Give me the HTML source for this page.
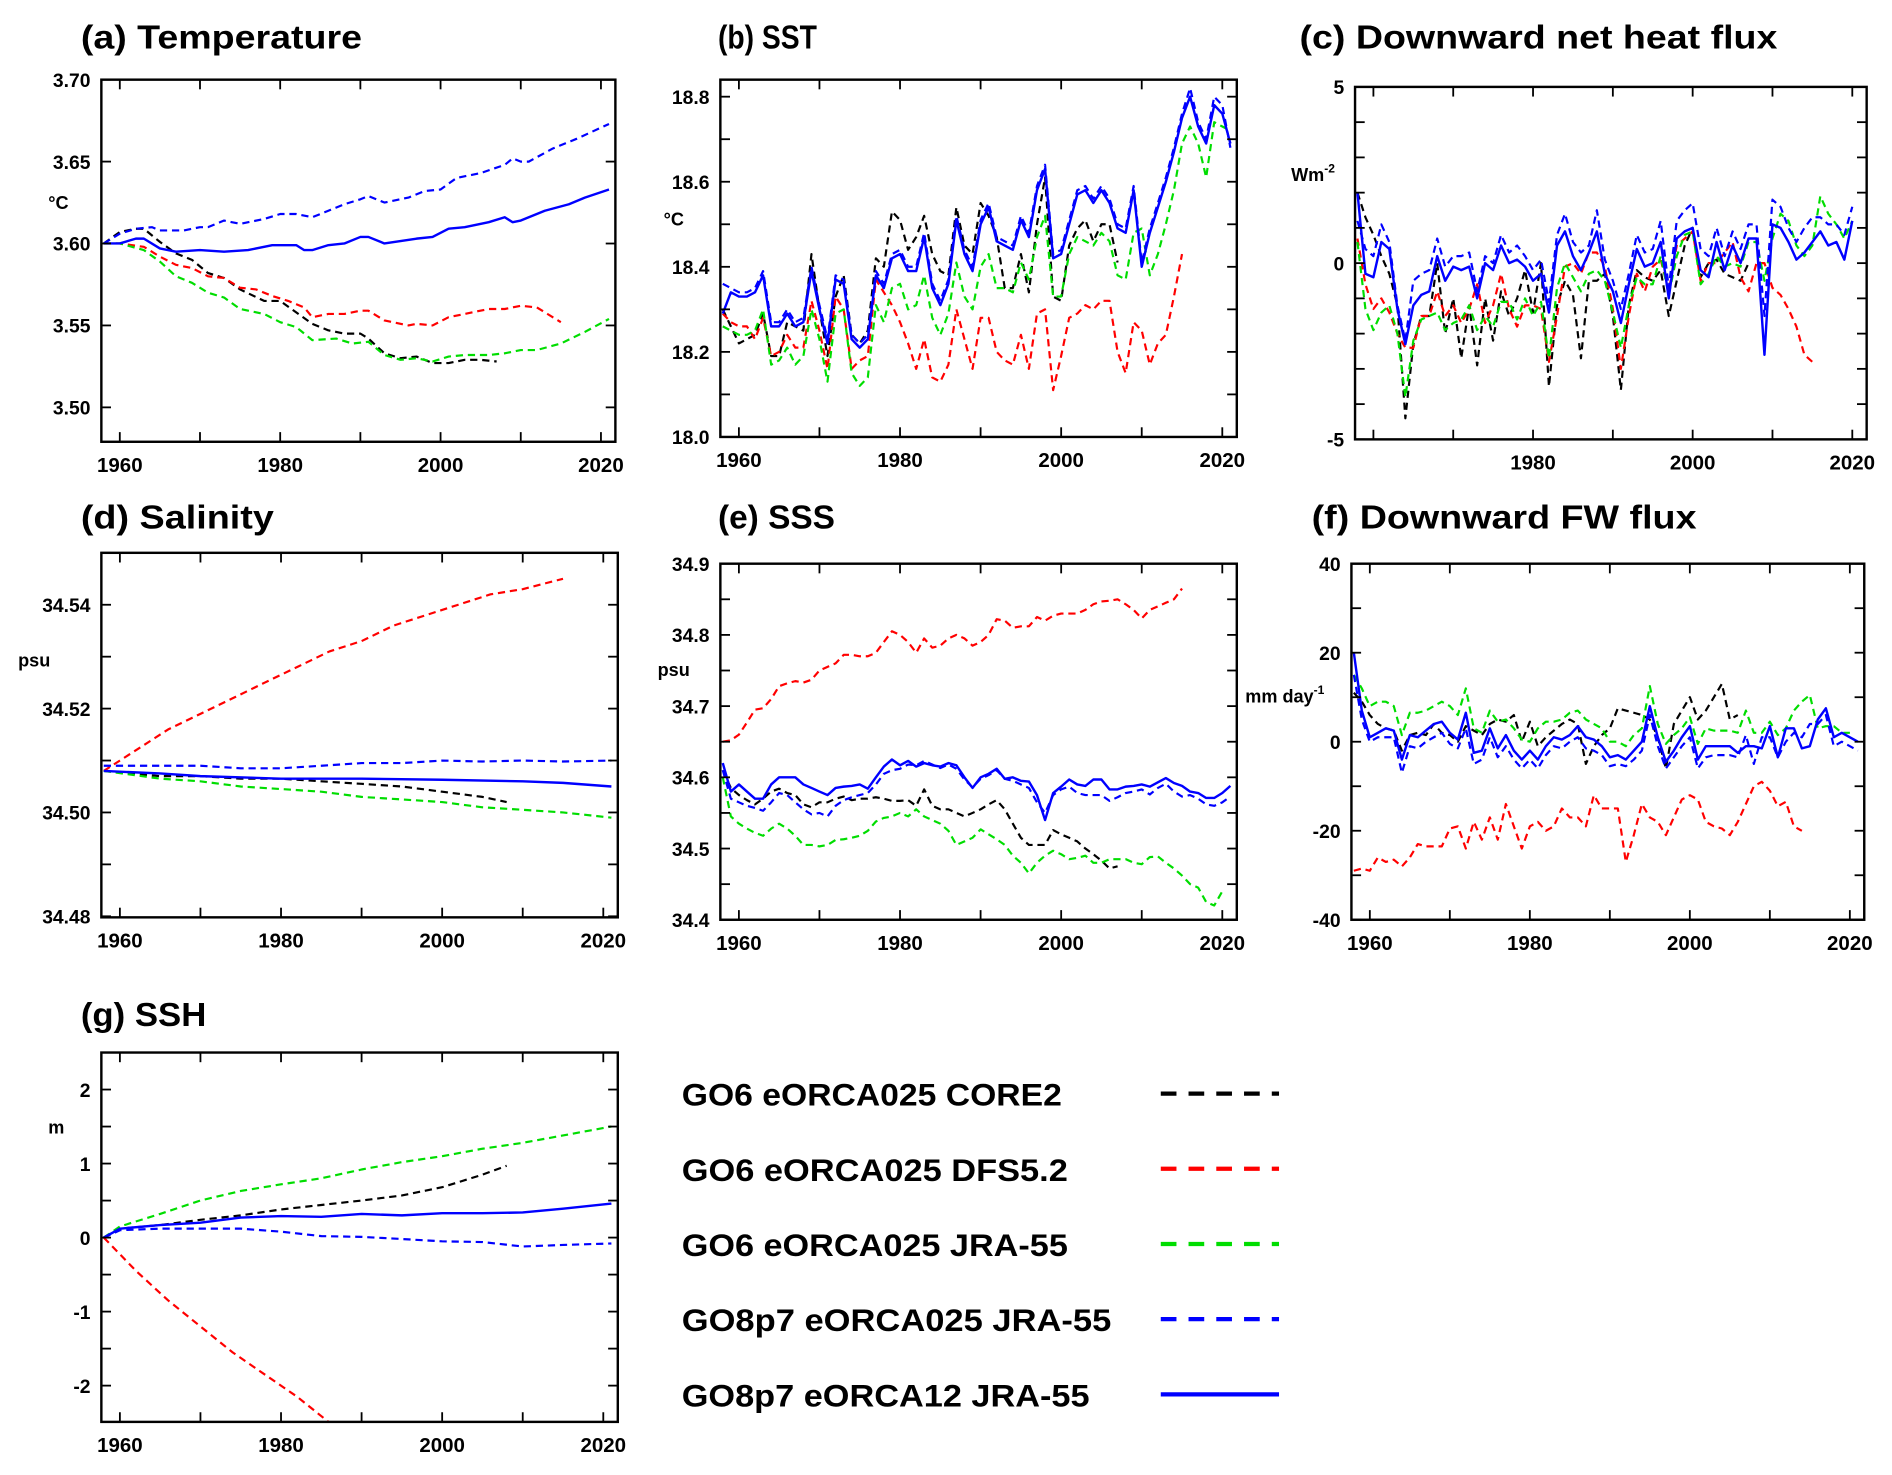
<!DOCTYPE html>
<html><head><meta charset="utf-8"><style>
html,body{margin:0;padding:0;background:#fff}
svg{display:block}
text{font-family:"Liberation Sans",sans-serif;font-weight:bold;fill:#000}
</style></head><body>
<svg id="fig" xmlns="http://www.w3.org/2000/svg" width="1892" height="1475" viewBox="0 0 1568 1222" preserveAspectRatio="none"></svg>
<script>
// ---------- data ----------
const yearsAnnual = []; for (let y = 1958; y <= 2021; y++) yearsAnnual.push(y);

// (a) Temperature
const aBlueDashYears=[1958,1960,1962,1964,1965,1968,1970,1971,1973,1975,1978,1980,1982,1984,1986,1988,1990,1991,1993,1996,1998,2000,2002,2005,2008,2009,2010,2011,2014,2017,2021];
const aBlueDash=[3.600,3.606,3.609,3.610,3.608,3.608,3.610,3.610,3.614,3.612,3.615,3.618,3.618,3.616,3.620,3.624,3.627,3.629,3.625,3.628,3.632,3.633,3.640,3.643,3.648,3.652,3.650,3.650,3.658,3.664,3.673];
const aBlueYears=[1958,1960,1962,1963,1965,1967,1970,1973,1976,1979,1982,1983,1984,1986,1988,1990,1991,1993,1997,1999,2001,2003,2006,2008,2009,2010,2013,2016,2018,2021];
const aBlue=[3.600,3.600,3.603,3.603,3.597,3.595,3.596,3.595,3.596,3.599,3.599,3.596,3.596,3.599,3.600,3.604,3.604,3.600,3.603,3.604,3.609,3.610,3.613,3.616,3.613,3.614,3.620,3.624,3.628,3.633];
const aBlackYears=[1958,1960,1962,1963,1965,1967,1969,1971,1973,1975,1978,1980,1982,1984,1986,1988,1990,1991,1993,1995,1997,1999,2001,2003,2005,2007];
const aBlack=[3.600,3.607,3.609,3.609,3.601,3.594,3.590,3.582,3.579,3.572,3.565,3.565,3.558,3.551,3.547,3.545,3.545,3.542,3.533,3.530,3.531,3.527,3.527,3.529,3.529,3.528];
const aRedYears=[1958,1960,1963,1965,1967,1969,1971,1973,1975,1977,1979,1981,1983,1984,1986,1988,1990,1991,1993,1996,1997,1999,2001,2003,2006,2008,2010,2012,2015];
const aRed=[3.600,3.600,3.598,3.592,3.587,3.585,3.580,3.579,3.573,3.572,3.568,3.565,3.561,3.555,3.557,3.557,3.559,3.559,3.553,3.550,3.551,3.550,3.555,3.557,3.560,3.560,3.562,3.561,3.552];
const aGreenYears=[1958,1960,1963,1965,1967,1969,1971,1973,1975,1978,1980,1982,1984,1987,1989,1991,1993,1995,1997,1999,2001,2003,2006,2008,2010,2012,2015,2018,2021];
const aGreen=[3.600,3.600,3.596,3.589,3.580,3.576,3.570,3.567,3.560,3.557,3.552,3.549,3.541,3.542,3.539,3.540,3.532,3.529,3.530,3.528,3.531,3.532,3.532,3.533,3.535,3.535,3.539,3.546,3.554];

// (b) SST (annual from 1958)
const bBlue=[18.29,18.34,18.33,18.33,18.34,18.38,18.26,18.26,18.29,18.26,18.27,18.39,18.30,18.22,18.37,18.36,18.23,18.21,18.23,18.38,18.35,18.42,18.43,18.39,18.39,18.47,18.35,18.31,18.36,18.51,18.43,18.39,18.50,18.54,18.46,18.45,18.44,18.51,18.47,18.58,18.63,18.42,18.43,18.50,18.57,18.58,18.55,18.58,18.55,18.49,18.48,18.58,18.40,18.48,18.54,18.60,18.67,18.75,18.80,18.73,18.69,18.78,18.76,18.69];
const bBlueDash=[18.36,18.35,18.34,18.34,18.35,18.39,18.27,18.27,18.30,18.27,18.28,18.40,18.31,18.23,18.38,18.37,18.24,18.22,18.24,18.39,18.36,18.43,18.44,18.40,18.40,18.48,18.36,18.32,18.37,18.52,18.44,18.40,18.51,18.55,18.47,18.46,18.45,18.52,18.48,18.59,18.64,18.43,18.44,18.51,18.58,18.59,18.56,18.59,18.56,18.50,18.49,18.59,18.41,18.49,18.55,18.61,18.68,18.76,18.82,18.74,18.70,18.80,18.78,18.68];
const bBlack=[18.30,18.26,18.22,18.23,18.24,18.29,18.19,18.19,18.27,18.26,18.25,18.43,18.30,18.19,18.33,18.38,18.24,18.22,18.25,18.42,18.40,18.53,18.51,18.44,18.47,18.52,18.43,18.39,18.38,18.54,18.45,18.43,18.55,18.52,18.47,18.35,18.35,18.43,18.34,18.50,18.61,18.33,18.32,18.45,18.49,18.51,18.46,18.50,18.50,18.41];
const bGreen=[18.26,18.25,18.24,18.24,18.25,18.30,18.17,18.18,18.21,18.17,18.19,18.30,18.23,18.13,18.29,18.30,18.15,18.12,18.14,18.31,18.27,18.35,18.36,18.30,18.31,18.38,18.28,18.24,18.29,18.41,18.33,18.30,18.40,18.43,18.35,18.35,18.34,18.41,18.37,18.47,18.52,18.33,18.33,18.43,18.47,18.46,18.45,18.48,18.46,18.38,18.37,18.48,18.49,18.38,18.43,18.50,18.58,18.69,18.73,18.69,18.61,18.74,18.73,18.72];
const bRed=[18.29,18.27,18.26,18.26,18.23,18.28,18.19,18.20,18.24,18.21,18.21,18.32,18.25,18.16,18.33,18.30,18.16,18.18,18.19,18.37,18.34,18.31,18.27,18.22,18.16,18.23,18.14,18.13,18.17,18.30,18.23,18.16,18.28,18.28,18.20,18.18,18.17,18.24,18.16,18.29,18.30,18.11,18.19,18.28,18.29,18.31,18.30,18.32,18.32,18.20,18.15,18.27,18.25,18.17,18.22,18.24,18.33,18.43];

// (c) Net heat flux (annual from 1958)
const cBlue=[2.0,-0.3,-0.4,0.6,0.4,-1.3,-2.3,-1.2,-0.9,-0.8,0.2,-0.5,-0.1,-0.2,-0.1,-1.0,0.0,-0.2,0.5,0.0,0.1,-0.1,-0.5,-0.3,-1.4,0.5,0.9,0.2,-0.2,0.3,0.9,-0.3,-0.8,-1.7,-0.6,0.4,-0.1,0.0,0.6,-1.0,0.7,0.9,1.0,-0.2,-0.4,0.6,-0.2,0.5,0.0,0.7,0.7,-2.6,1.1,1.0,0.6,0.1,0.3,0.6,0.9,0.5,0.6,0.1,1.2];
const cBlueDash=[1.2,0.4,0.2,1.1,0.6,-1.2,-2.2,-0.5,-0.3,-0.2,0.7,-0.1,0.2,0.2,0.3,-0.8,0.2,0.0,0.8,0.3,0.5,0.2,-0.2,0.1,-1.1,0.8,1.4,0.6,0.3,0.5,1.5,0.1,-0.5,-1.3,-0.3,0.8,0.3,0.4,1.2,-0.7,1.2,1.5,1.7,0.4,0.2,1.0,0.2,0.9,0.4,1.1,1.1,-1.5,1.8,1.6,1.0,0.6,1.0,1.3,1.3,1.1,1.1,0.8,1.6];
const cBlack=[2.0,1.3,0.8,0.2,-0.3,-1.2,-4.4,-2.3,-1.5,-1.5,0.0,-2.0,-1.0,-2.7,-1.2,-2.9,-1.0,-2.2,-0.8,-1.5,-1.0,-0.2,-1.4,0.0,-3.5,-1.2,-0.5,-0.9,-2.7,-0.5,-0.5,-0.3,-1.5,-3.6,-1.2,-0.2,-0.4,-0.5,-0.2,-1.5,-0.5,0.5,1.0,-0.4,0.0,0.1,-0.3,-0.4,-0.5,0.0];
const cRed=[0.7,-0.6,-1.3,-1.0,-1.4,-2.0,-2.4,-2.4,-1.5,-1.5,-0.8,-1.5,-1.2,-1.7,-1.3,-0.6,-1.7,-1.2,-0.3,-1.3,-1.8,-1.2,-1.2,-1.3,-2.8,-1.5,-0.1,0.0,-0.3,0.3,0.3,-0.1,-1.3,-3.0,-1.5,-0.3,-0.8,-0.1,0.1,-0.8,0.5,0.7,0.9,-0.5,0.0,0.0,0.3,0.6,-0.4,-0.8,0.0,0.0,-0.7,-0.9,-1.3,-1.8,-2.6,-2.8];
const cGreen=[0.6,-1.3,-1.9,-1.4,-1.2,-2.0,-3.8,-2.2,-1.6,-1.5,-1.4,-1.9,-1.7,-1.6,-1.2,-1.9,-1.5,-1.8,-1.1,-1.1,-1.6,-1.0,-1.5,-1.1,-2.7,-0.7,0.0,-0.4,-0.8,-0.3,-0.2,-0.5,-1.4,-2.4,-1.2,-0.4,-0.6,-0.6,0.2,-0.9,0.2,0.8,0.9,-0.6,-0.3,0.2,-0.1,0.0,-0.1,0.6,0.6,-0.5,0.7,1.4,1.2,0.5,0.2,0.5,1.9,1.4,1.1,0.7,1.2];

// (d) Salinity
const dRedYears=[1958,1962,1966,1970,1974,1978,1982,1986,1990,1994,1998,2002,2006,2010,2015];
const dRed=[34.508,34.512,34.516,34.519,34.522,34.525,34.528,34.531,34.533,34.536,34.538,34.540,34.542,34.543,34.545];
const dBlueDashYears=[1958,1965,1970,1975,1980,1985,1990,1995,2000,2005,2010,2015,2021];
const dBlueDash=[34.509,34.509,34.509,34.5085,34.5085,34.509,34.5095,34.5095,34.510,34.5098,34.510,34.5098,34.510];
const dBlueYears=[1958,1965,1970,1980,1990,2000,2010,2015,2021];
const dBlue=[34.508,34.5075,34.507,34.5065,34.5065,34.5063,34.506,34.5057,34.505];
const dBlackYears=[1958,1965,1970,1975,1980,1985,1990,1995,2000,2005,2008];
const dBlack=[34.508,34.507,34.507,34.5065,34.5065,34.506,34.5055,34.505,34.504,34.503,34.502];
const dGreenYears=[1958,1965,1970,1975,1980,1985,1990,1995,2000,2005,2010,2015,2021];
const dGreen=[34.508,34.5065,34.506,34.505,34.5045,34.504,34.503,34.5025,34.502,34.501,34.5005,34.500,34.499];

// (e) SSS (annual from 1958)
const eBlue=[34.62,34.58,34.59,34.58,34.57,34.57,34.59,34.60,34.60,34.60,34.59,34.585,34.58,34.575,34.585,34.587,34.588,34.59,34.584,34.60,34.615,34.625,34.617,34.623,34.615,34.62,34.617,34.615,34.62,34.617,34.60,34.585,34.60,34.605,34.612,34.598,34.60,34.595,34.594,34.575,34.54,34.578,34.587,34.597,34.59,34.588,34.597,34.597,34.583,34.583,34.587,34.588,34.59,34.587,34.593,34.599,34.592,34.588,34.58,34.578,34.571,34.571,34.578,34.588];
const eBlueDash=[34.61,34.57,34.565,34.56,34.557,34.553,34.565,34.578,34.575,34.565,34.555,34.548,34.55,34.545,34.56,34.568,34.572,34.575,34.578,34.59,34.605,34.61,34.612,34.618,34.617,34.623,34.618,34.613,34.618,34.612,34.597,34.586,34.598,34.603,34.61,34.598,34.595,34.59,34.585,34.565,34.55,34.575,34.583,34.587,34.578,34.575,34.575,34.575,34.567,34.572,34.578,34.58,34.583,34.576,34.585,34.591,34.58,34.573,34.575,34.57,34.562,34.56,34.565,34.573];
const eBlack=[34.61,34.585,34.575,34.568,34.562,34.57,34.58,34.584,34.578,34.575,34.562,34.558,34.565,34.565,34.57,34.573,34.568,34.57,34.57,34.572,34.57,34.567,34.567,34.568,34.56,34.583,34.56,34.555,34.555,34.55,34.545,34.55,34.555,34.562,34.568,34.555,34.535,34.515,34.505,34.505,34.505,34.526,34.52,34.515,34.51,34.5,34.492,34.483,34.472,34.475];
const eGreen=[34.60,34.545,34.535,34.528,34.522,34.518,34.528,34.535,34.528,34.518,34.505,34.505,34.503,34.505,34.512,34.513,34.515,34.518,34.525,34.538,34.543,34.545,34.55,34.545,34.555,34.545,34.54,34.535,34.525,34.505,34.51,34.515,34.527,34.52,34.513,34.505,34.49,34.48,34.465,34.48,34.49,34.497,34.492,34.485,34.487,34.49,34.48,34.48,34.485,34.485,34.485,34.48,34.478,34.488,34.489,34.48,34.472,34.462,34.45,34.445,34.425,34.42,34.44];
const eRed=[34.65,34.652,34.66,34.677,34.695,34.697,34.71,34.728,34.732,34.735,34.733,34.737,34.75,34.755,34.76,34.772,34.772,34.77,34.77,34.775,34.79,34.805,34.80,34.79,34.775,34.795,34.782,34.785,34.795,34.80,34.795,34.785,34.79,34.80,34.822,34.82,34.81,34.812,34.812,34.825,34.82,34.827,34.83,34.83,34.83,34.835,34.843,34.847,34.848,34.85,34.843,34.835,34.823,34.835,34.84,34.845,34.85,34.865];

// (f) FW flux (annual from 1958)
const fBlue=[20,7,1,2,3,2.5,-4,1.5,1,2.5,4,4.5,2,0.5,6.5,-2.5,-2,3,-1.5,1.5,-2,-4,-2,-4,-1,1,0.5,1.5,3.5,1,0.5,-1,-3.5,-3,-4,-2,0,8,1,-4.5,-2,1,3.5,-4,-1,-1,-1,-1,-2.5,-1,-1,-1.5,3.5,-3.5,3,3,-1.5,-1,5,7.5,1,2,1,0];
const fBlueDash=[15,5,0,1,1,1,-7,-1,-1.5,0,1,2,-0.5,-1.5,3,-5,-4,1,-3.5,-1,-4,-6,-4,-6,-3,-1,-1.5,0,1,-1.5,-2,-3,-5.5,-5,-5.5,-4,-2,6,-1,-6,-3.5,-1,1,-6,-3.5,-3,-3,-3,-3.5,1.5,-5,1,1,-3.5,0,2,1,4,4,6,-1,0,-1,-2];
const fBlack=[11,9,6,4,3,2.5,-2,1.5,2,1.5,4,2,1.5,0,3.5,2.5,1.5,4,5,4.5,6,0,4.5,-1,1,2.5,4,5,4,-5,-1,1.5,3,7.5,7,6.5,6,5,1,-6,4,7,10,5,7,10,13,5,6];
const fGreen=[15,12,8,9,9,8,1.5,6.5,6.5,7,8,9,8,6,12,3,2,7,4.5,5,3,0.5,0,3,4.5,4.5,5,6.5,7,5,4,3,0,0,-1,1.5,3,12.5,4,-0.5,1.5,3,5.5,-0.5,3,2.5,2.5,2.5,2,7,2,2,4.5,1.5,3,7,9,10.5,3,3.5,3.5,2,2];
const fRed=[-29,-28.5,-29,-26,-27,-26.5,-28,-26,-23,-23.5,-23.5,-23.5,-19.5,-19,-24,-18,-22,-17,-22,-14,-19,-24,-19,-18,-20,-19,-15,-17,-17,-19,-12,-15,-15,-15,-27,-21,-14,-17,-18,-21,-17,-13,-12,-13,-18,-19,-19.5,-21,-18,-14,-10,-9,-11,-14.5,-13.5,-19,-20];

// (g) SSH
const gRedYears=[1958,1962,1966,1970,1974,1978,1982,1986,1990];
const gRed=[0,-0.45,-0.85,-1.2,-1.55,-1.85,-2.15,-2.5,-2.8];
const gGreenYears=[1958,1960,1965,1970,1975,1980,1985,1990,1995,2000,2005,2010,2015,2021];
const gGreen=[0,0.15,0.32,0.5,0.63,0.72,0.8,0.92,1.02,1.1,1.2,1.28,1.38,1.5];
const gBlackYears=[1958,1960,1965,1970,1975,1980,1985,1990,1995,2000,2005,2008];
const gBlack=[0,0.12,0.17,0.24,0.3,0.38,0.44,0.5,0.57,0.68,0.85,0.97];
const gBlueYears=[1958,1960,1965,1970,1975,1980,1985,1990,1995,2000,2005,2010,2015,2021];
const gBlue=[0,0.12,0.17,0.2,0.27,0.29,0.28,0.32,0.3,0.33,0.33,0.34,0.39,0.46];
const gBlueDashYears=[1958,1960,1965,1970,1975,1980,1985,1990,1995,2000,2005,2010,2015,2021];
const gBlueDash=[0,0.1,0.12,0.12,0.12,0.08,0.02,0.01,-0.02,-0.05,-0.06,-0.12,-0.1,-0.08];

// ---------- drawing ----------
const NS="http://www.w3.org/2000/svg";
const svg=document.getElementById('fig');
const COL={black:'#000000',red:'#ff0000',green:'#00dd00',blue:'#0000ff'};
function mk(tag,attrs,parent){const e=document.createElementNS(NS,tag);for(const k in attrs)e.setAttribute(k,attrs[k]);(parent||svg).appendChild(e);return e;}

function panel(p){
  const g=mk('g',{});
  
  
  const X0=1957.7,X1=2021.8;
  const xs=v=>p.x0+(v-X0)/(X1-X0)*(p.x1-p.x0);
  const ys=v=>p.y1-(v-p.ymin)/(p.ymax-p.ymin)*(p.y1-p.y0);
  const t=mk('text',{x:p.tx,y:p.ty,'font-size':28,textLength:p.tw,lengthAdjust:'spacingAndGlyphs'},g);
  t.textContent=p.title;
  
  
  const cid='clip'+p.id;
  const cp=mk('clipPath',{id:cid},g);mk('rect',{x:p.x0,y:p.y0,width:p.x1-p.x0,height:p.y1-p.y0},cp);
  const sg=mk('g',{'clip-path':'url(#'+cid+')'},g);
  p.series.forEach(s=>{
    const yrs=s.years||yearsAnnual;
    let d='';s.vals.forEach((v,i)=>{d+=(i?'L':'M')+xs(yrs[i]).toFixed(1)+','+ys(v).toFixed(1);});
    const path=mk('path',{d:d,fill:'none',stroke:COL[s.c],'stroke-width':s.dash?1.8:2,'stroke-dasharray':s.dash?'6,4':'none','stroke-linejoin':'round'},sg);
    
    
  });
  const fr=mk('rect',{x:p.x0,y:p.y0,width:p.x1-p.x0,height:p.y1-p.y0,fill:'none',stroke:'#000','stroke-width':2},g);
  
  
  for(let yr=1960;yr<=2020;yr+=10){const x=xs(yr);
    mk('line',{x1:x,x2:x,y1:p.y1,y2:p.y1-8,stroke:'#000','stroke-width':1.5},g);
    mk('line',{x1:x,x2:x,y1:p.y0,y2:p.y0+8,stroke:'#000','stroke-width':1.5},g);}
  p.xl.forEach(yr=>{const tx=mk('text',{x:xs(yr),y:p.y1+25,'font-size':17,'text-anchor':'middle'},g);tx.textContent=yr;
    
    });
  const n=Math.round((p.ymax-p.ymin)/p.tstep);
  for(let i=0;i<=n+1;i++){const v=p.tstart+i*p.tstep;if(v>p.ymax+1e-9)break;if(v<p.ymin-1e-9)continue;const y=ys(v);
    mk('line',{x1:p.x0,x2:p.x0+8,y1:y,y2:y,stroke:'#000','stroke-width':1.5},g);
    mk('line',{x1:p.x1,x2:p.x1-8,y1:y,y2:y,stroke:'#000','stroke-width':1.5},g);}
  p.yl.forEach(v=>{const ty=mk('text',{x:p.x0-9,y:ys(v)+6,'font-size':16,'text-anchor':'end'},g);ty.textContent=v.toFixed(p.dec);
    
    });
  const u=mk('text',{x:p.ux,y:p.uy,'font-size':15},g);
  u.innerHTML=p.unit;
  
  
}
const yrsStd=[1960,1980,2000,2020];
panel({id:'a',name:'panel-temperature',title:'(a) Temperature',tx:67,ty:40,tw:233,x0:84,x1:510,y0:66,y1:366,ymin:3.479,ymax:3.70,tstart:3.50,tstep:0.05,yl:[3.50,3.55,3.60,3.65,3.70],dec:2,xl:yrsStd,unit:'°C',ux:40,uy:173,
 series:[{n:'a-core2',c:'black',dash:1,years:aBlackYears,vals:aBlack},{n:'a-dfs',c:'red',dash:1,years:aRedYears,vals:aRed},{n:'a-jra',c:'green',dash:1,years:aGreenYears,vals:aGreen},{n:'a-go8-025',c:'blue',dash:1,years:aBlueDashYears,vals:aBlueDash},{n:'a-go8-12',c:'blue',years:aBlueYears,vals:aBlue}]});
panel({id:'b',name:'panel-sst',title:'(b) SST',tx:595,ty:40,tw:82,x0:597,x1:1025,y0:66,y1:362,ymin:18.0,ymax:18.84,tstart:18.0,tstep:0.1,yl:[18.0,18.2,18.4,18.6,18.8],dec:1,xl:yrsStd,unit:'°C',ux:550,uy:187,
 series:[{n:'b-core2',c:'black',dash:1,vals:bBlack},{n:'b-dfs',c:'red',dash:1,vals:bRed},{n:'b-jra',c:'green',dash:1,vals:bGreen},{n:'b-go8-025',c:'blue',dash:1,vals:bBlueDash},{n:'b-go8-12',c:'blue',vals:bBlue}]});
panel({id:'c',name:'panel-net-heat-flux',title:'(c) Downward net heat flux',tx:1077,ty:40,tw:396,x0:1123,x1:1547,y0:72,y1:364,ymin:-5,ymax:5,tstart:-5,tstep:1,yl:[-5,0,5],dec:0,xl:[1980,2000,2020],unit:'Wm<tspan dy="-7" font-size="10">-2</tspan>',ux:1070,uy:150,
 series:[{n:'c-core2',c:'black',dash:1,vals:cBlack},{n:'c-dfs',c:'red',dash:1,vals:cRed},{n:'c-jra',c:'green',dash:1,vals:cGreen},{n:'c-go8-025',c:'blue',dash:1,vals:cBlueDash},{n:'c-go8-12',c:'blue',vals:cBlue}]});
panel({id:'d',name:'panel-salinity',title:'(d) Salinity',tx:67,ty:438,tw:160,x0:84,x1:512,y0:458,y1:760,ymin:34.4798,ymax:34.55,tstart:34.48,tstep:0.01,yl:[34.48,34.50,34.52,34.54],dec:2,xl:yrsStd,unit:'psu',ux:15,uy:552,
 series:[{n:'d-core2',c:'black',dash:1,years:dBlackYears,vals:dBlack},{n:'d-dfs',c:'red',dash:1,years:dRedYears,vals:dRed},{n:'d-jra',c:'green',dash:1,years:dGreenYears,vals:dGreen},{n:'d-go8-025',c:'blue',dash:1,years:dBlueDashYears,vals:dBlueDash},{n:'d-go8-12',c:'blue',years:dBlueYears,vals:dBlue}]});
panel({id:'e',name:'panel-sss',title:'(e) SSS',tx:595,ty:438,tw:97,x0:597,x1:1025,y0:467,y1:762,ymin:34.4,ymax:34.9,tstart:34.4,tstep:0.05,yl:[34.4,34.5,34.6,34.7,34.8,34.9],dec:1,xl:yrsStd,unit:'psu',ux:545,uy:560,
 series:[{n:'e-core2',c:'black',dash:1,vals:eBlack},{n:'e-dfs',c:'red',dash:1,vals:eRed},{n:'e-jra',c:'green',dash:1,vals:eGreen},{n:'e-go8-025',c:'blue',dash:1,vals:eBlueDash},{n:'e-go8-12',c:'blue',vals:eBlue}]});
panel({id:'f',name:'panel-fw-flux',title:'(f) Downward FW flux',tx:1087,ty:438,tw:319,x0:1120,x1:1545,y0:467,y1:762,ymin:-40,ymax:40,tstart:-40,tstep:10,yl:[-40,-20,0,20,40],dec:0,xl:[1960,1980,2000,2020],unit:'mm day<tspan dy="-7" font-size="10">-1</tspan>',ux:1032,uy:582,
 series:[{n:'f-core2',c:'black',dash:1,vals:fBlack},{n:'f-dfs',c:'red',dash:1,vals:fRed},{n:'f-jra',c:'green',dash:1,vals:fGreen},{n:'f-go8-025',c:'blue',dash:1,vals:fBlueDash},{n:'f-go8-12',c:'blue',vals:fBlue}]});
panel({id:'g',name:'panel-ssh',title:'(g) SSH',tx:67,ty:850,tw:104,x0:84,x1:512,y0:872,y1:1178,ymin:-2.49,ymax:2.5,tstart:-2,tstep:0.5,yl:[-2,-1,0,1,2],dec:0,xl:yrsStd,unit:'m',ux:40,uy:939,
 series:[{n:'g-core2',c:'black',dash:1,years:gBlackYears,vals:gBlack},{n:'g-dfs',c:'red',dash:1,years:gRedYears,vals:gRed},{n:'g-jra',c:'green',dash:1,years:gGreenYears,vals:gGreen},{n:'g-go8-025',c:'blue',dash:1,years:gBlueDashYears,vals:gBlueDash},{n:'g-go8-12',c:'blue',years:gBlueYears,vals:gBlue}]});

// legend
const leg=[['GO6 eORCA025 CORE2','black',1,315],['GO6 eORCA025 DFS5.2','red',1,320],['GO6 eORCA025 JRA-55','green',1,320],['GO8p7 eORCA025 JRA-55','blue',1,356],['GO8p7 eORCA12 JRA-55','blue',0,338]];
const lg=mk('g',{});


leg.forEach((l,i)=>{const y=906+i*62.3;
  const tx=mk('text',{x:565,y:y+10,'font-size':26,textLength:l[3],lengthAdjust:'spacingAndGlyphs'},lg);tx.textContent=l[0];
  
  
  const ln=mk('line',{x1:962,x2:1060,y1:y,y2:y,stroke:COL[l[1]],'stroke-width':3.5,'stroke-dasharray':l[2]?'13,10':'none'},lg);
  
  
});
</script>
</body></html>
